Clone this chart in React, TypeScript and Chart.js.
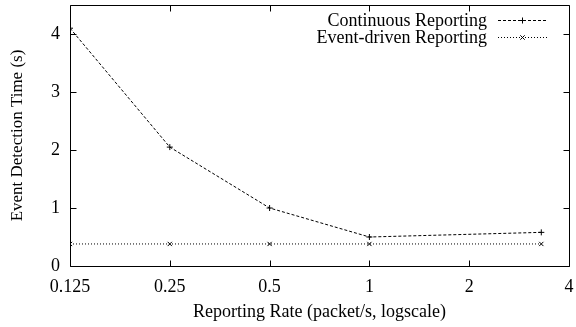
import React, { useEffect, useRef } from "react";
import { Chart, registerables } from "chart.js";

Chart.register(...registerables);

const rates = [0.125, 0.25, 0.5, 1, 3.3];
const continuousTimes = [4.1, 2.05, 1.0, 0.5, 0.58];
const eventDrivenTimes = [0.38, 0.38, 0.38, 0.38, 0.38];
const xTickValues = [0.125, 0.25, 0.5, 1, 2, 4];
const yTickValues = [0, 1, 2, 3, 4];
const seriesNames = ["Continuous Reporting", "Event-driven Reporting"];
const seriesDashes = [
  [3, 2],
  [1, 2],
];

const FONT = "'Liberation Serif', 'DejaVu Serif', serif";

const framePlugin = {
  id: "gnuFrame",
  afterDraw(chart: any) {
    const { ctx, chartArea } = chart;
    const { left, right, top, bottom } = chartArea;
    const xs = chart.scales.x;
    const ys = chart.scales.y;
    ctx.save();
    ctx.strokeStyle = "#000";
    ctx.lineWidth = 1;
    ctx.setLineDash([]);
    ctx.beginPath();
    const L = Math.round(left) + 0.5;
    const R = Math.round(right) + 0.5;
    const T = Math.round(top) + 0.5;
    const B = Math.round(bottom) + 0.5;
    ctx.rect(L, T, R - L, B - T);
    const tl = 6;
    xTickValues.forEach((v) => {
      const px = Math.round(xs.getPixelForValue(v)) + 0.5;
      ctx.moveTo(px, B);
      ctx.lineTo(px, B - tl);
      ctx.moveTo(px, T);
      ctx.lineTo(px, T + tl);
    });
    yTickValues.forEach((v) => {
      const py = Math.round(ys.getPixelForValue(v)) + 0.5;
      ctx.moveTo(L, py);
      ctx.lineTo(L + tl, py);
      ctx.moveTo(R, py);
      ctx.lineTo(R - tl, py);
    });
    ctx.stroke();

    // legend
    ctx.font = "18px " + FONT;
    ctx.fillStyle = "#000";
    ctx.textAlign = "right";
    ctx.textBaseline = "middle";
    const rows = [20.5, 37.5];
    seriesNames.forEach((name, i) => {
      const y = rows[i];
      ctx.fillText(name, 487, y + 1);
      ctx.beginPath();
      ctx.setLineDash(seriesDashes[i]);
      ctx.moveTo(498, y);
      ctx.lineTo(547, y);
      ctx.stroke();
      ctx.setLineDash([]);
      ctx.beginPath();
      const cx = 522.5;
      if (i === 0) {
        ctx.moveTo(cx - 3, y);
        ctx.lineTo(cx + 3, y);
        ctx.moveTo(cx, y - 3);
        ctx.lineTo(cx, y + 3);
      } else {
        ctx.moveTo(cx - 2.2, y - 2.2);
        ctx.lineTo(cx + 2.2, y + 2.2);
        ctx.moveTo(cx - 2.2, y + 2.2);
        ctx.lineTo(cx + 2.2, y - 2.2);
      }
      ctx.stroke();
    });
    ctx.restore();
  },
};

export default function App() {
  const ref = useRef<HTMLCanvasElement>(null);
  useEffect(() => {
    document.body.style.margin = "0";
    const chart = new Chart(ref.current!, {
      type: "line",
      data: {
        datasets: [
          {
            label: seriesNames[0],
            data: rates.map((x, i) => ({ x, y: continuousTimes[i] })),
            borderColor: "#000",
            borderWidth: 1,
            borderDash: seriesDashes[0],
            pointStyle: "cross",
            pointRadius: 3,
            pointBorderWidth: 1,
            pointBorderColor: "#000",
            pointBackgroundColor: "#000",
            tension: 0,
            fill: false,
          },
          {
            label: seriesNames[1],
            data: rates.map((x, i) => ({ x, y: eventDrivenTimes[i] })),
            borderColor: "#000",
            borderWidth: 1,
            borderDash: seriesDashes[1],
            pointStyle: "crossRot",
            pointRadius: 3,
            pointBorderWidth: 1,
            pointBorderColor: "#000",
            pointBackgroundColor: "#000",
            tension: 0,
            fill: false,
          },
        ],
      },
      options: {
        animation: false,
        responsive: false,
        devicePixelRatio: 1,
        layout: { padding: { left: 0, right: 7, top: 5, bottom: 0 } },
        plugins: { legend: { display: false }, tooltip: { enabled: false } },
        scales: {
          x: {
            type: "logarithmic",
            min: 0.125,
            max: 4,
            afterBuildTicks: (s: any) => {
              s.ticks = xTickValues.map((v) => ({ value: v }));
            },
            afterFit: (s: any) => {
              s.height = 61;
              s.paddingLeft = 0;
              s.paddingRight = 0;
            },
            grid: { display: false, drawTicks: false },
            border: { display: false },
            ticks: {
              color: "#000",
              font: { family: FONT, size: 18 },
              padding: 10,
              maxRotation: 0,
              autoSkip: false,
              callback: (v: any) => String(v),
            },
            title: {
              display: true,
              text: "Reporting Rate (packet/s, logscale)",
              color: "#000",
              font: { family: FONT, size: 18 },
              padding: { top: 4, bottom: 4 },
            },
          },
          y: {
            type: "linear",
            min: 0,
            max: 4.5,
            afterBuildTicks: (s: any) => {
              s.ticks = yTickValues.map((v) => ({ value: v }));
            },
            afterFit: (s: any) => {
              s.width = 70;
              s.paddingTop = 0;
              s.paddingBottom = 0;
            },
            grid: { display: false, drawTicks: false },
            border: { display: false },
            ticks: {
              color: "#000",
              font: { family: FONT, size: 18 },
              padding: 10,
              callback: (v: any) => String(v),
            },
            title: {
              display: true,
              text: "Event Detection Time (s)",
              color: "#000",
              font: { family: FONT, size: 17 },
              padding: { top: 7, bottom: 0 },
            },
          },
        },
      },
      plugins: [framePlugin],
    });
    return () => chart.destroy();
  }, []);
  return (
    <div style={{ width: 576, height: 327, background: "#fff" }}>
      <canvas ref={ref} width={576} height={327} style={{ display: "block" }} />
    </div>
  );
}
